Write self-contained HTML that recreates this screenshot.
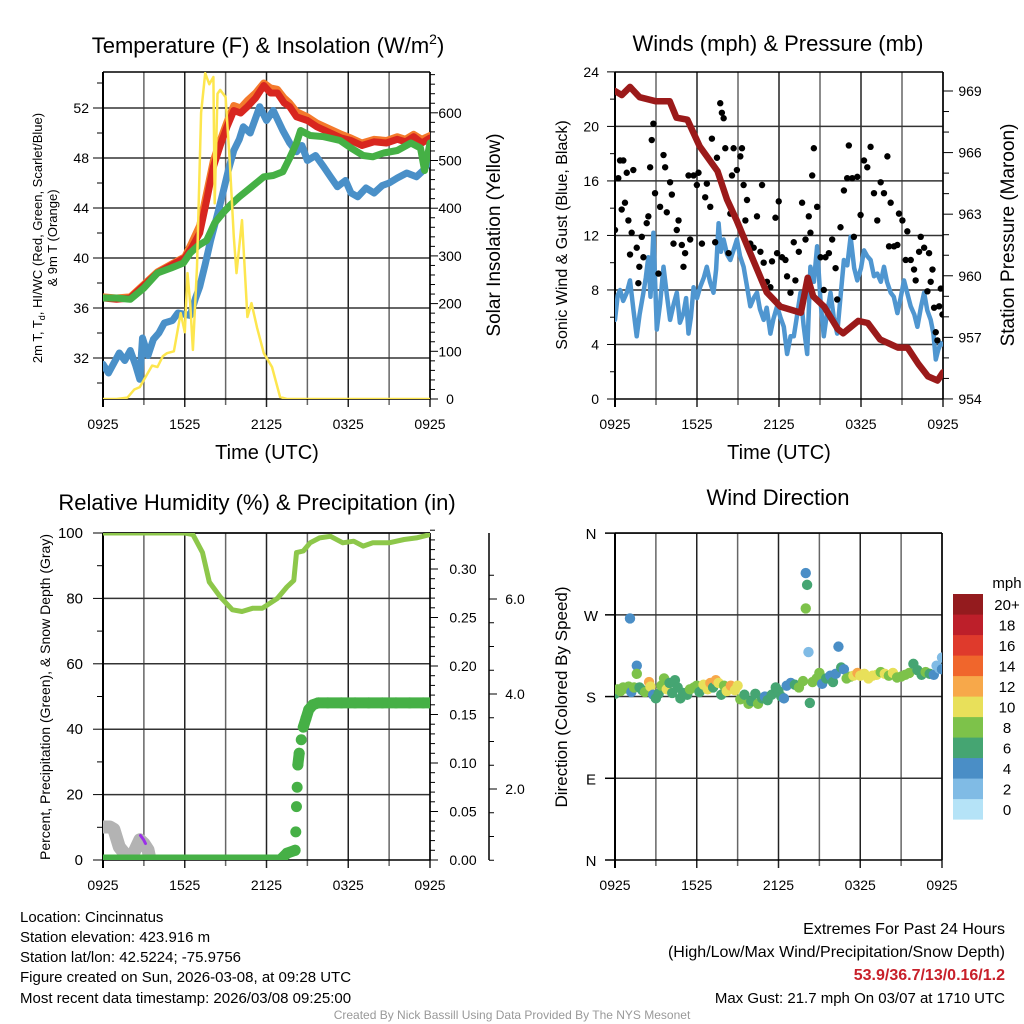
<!DOCTYPE html>
<html><head><meta charset="utf-8"><style>
html,body{margin:0;padding:0;background:#fff;}
svg{display:block;font-family:"Liberation Sans",Arial,sans-serif;}
</style></head><body>
<svg id="c" width="1024" height="1024" viewBox="0 0 1024 1024" xmlns="http://www.w3.org/2000/svg">
<defs>
<clipPath id="cp1"><rect x="103" y="72" width="327" height="327"/></clipPath>
<clipPath id="cp2"><rect x="615" y="72" width="328" height="327"/></clipPath>
<clipPath id="cp3"><rect x="103" y="533" width="327" height="327"/></clipPath>
<clipPath id="cp4"><rect x="615" y="533" width="327" height="327"/></clipPath>
</defs>
<g id="g1"></g>
<g id="g2"></g>
<g id="g3"></g>
<g id="g4"></g>

<text x="268" y="53" font-size="22" text-anchor="middle">Temperature (F) &amp; Insolation (W/m<tspan font-size="14" dy="-9">2</tspan><tspan dy="9">)</tspan></text>
<text x="778" y="51" font-size="22" text-anchor="middle">Winds (mph) &amp; Pressure (mb)</text>
<text x="257" y="510" font-size="22" text-anchor="middle">Relative Humidity (%) &amp; Precipitation (in)</text>
<text x="778" y="505" font-size="22" text-anchor="middle">Wind Direction</text>

<text transform="translate(42,238) rotate(-90)" font-size="13" text-anchor="middle">2m T, T<tspan font-size="9" dy="3">d</tspan><tspan dy="-3">, HI/WC (Red, Green, Scarlet/Blue)</tspan></text>
<text transform="translate(57,238) rotate(-90)" font-size="13" text-anchor="middle">&amp; 9m T (Orange)</text>
<text transform="translate(500,235) rotate(-90)" font-size="19" text-anchor="middle">Solar Insolation (Yellow)</text>
<text transform="translate(567,235) rotate(-90)" font-size="16" text-anchor="middle">Sonic Wind &amp; Gust (Blue, Black)</text>
<text transform="translate(1014,235) rotate(-90)" font-size="19" text-anchor="middle">Station Pressure (Maroon)</text>
<text transform="translate(50,697) rotate(-90)" font-size="14" text-anchor="middle">Percent, Precipitation (Green), &amp; Snow Depth (Gray)</text>
<text transform="translate(567,697) rotate(-90)" font-size="17" text-anchor="middle">Direction (Colored By Speed)</text>

<text x="267" y="459" font-size="20" text-anchor="middle">Time (UTC)</text>
<text x="779" y="459" font-size="20" text-anchor="middle">Time (UTC)</text>

<g font-size="15">
<text x="20" y="922">Location: Cincinnatus</text>
<text x="20" y="942">Station elevation: 423.916 m</text>
<text x="20" y="962">Station lat/lon: 42.5224; -75.9756</text>
<text x="20" y="982">Figure created on Sun, 2026-03-08, at 09:28 UTC</text>
<text x="20" y="1003">Most recent data timestamp: 2026/03/08 09:25:00</text>
</g>
<g font-size="16" text-anchor="end">
<text x="1005" y="934">Extremes For Past 24 Hours</text>
<text x="1005" y="957">(High/Low/Max Wind/Precipitation/Snow Depth)</text>
<text x="1005" y="980" fill="#c8202a" font-weight="bold">53.9/36.7/13/0.16/1.2</text>
<text x="1005" y="1003" font-size="15">Max Gust: 21.7 mph On 03/07 at 1710 UTC</text>
</g>
<text x="512" y="1019" font-size="12" fill="#999" text-anchor="middle">Created By Nick Bassill Using Data Provided By The NYS Mesonet</text>
</svg>
<script>
// ---------- data ----------
const xTickLabels = ["0925","1525","2125","0325","0925"];
const redT = [0,1,2,3,4,5,6,6.5,7.1,7.6,8.1,8.6,9.1,9.6,10.1,10.6,11.2,11.8,12.3,12.8,13.3,13.7,14.2,15,15.7,16.7,17.5,18.2,19,19.9,20.8,21.6,22.2,22.8,23.4,24];
const redV = [36.8,36.7,36.8,37.8,38.8,39.4,40.0,40.8,42,44.6,47.3,49,50.5,51.8,51.6,52.1,52.8,53.8,53.2,53.2,52.4,52.1,51.3,51.0,50.5,50.0,49.6,49.4,49.0,49.3,49.2,49.5,49.3,49.7,49.2,49.6];
const orangeV = [36.9,36.8,36.9,37.9,38.9,39.5,40.1,41.2,42.6,45.2,47.8,49.4,50.9,52.2,52.0,52.6,53.2,54.0,53.6,53.5,52.8,52.4,51.7,51.3,50.8,50.3,49.9,49.6,49.2,49.5,49.4,49.7,49.5,49.9,49.5,49.8];
const greenT = [0,1,2,3,4,5,5.9,6.4,7,7.6,8.2,8.8,9.4,10,10.8,11.8,12.5,13.2,13.7,14.2,14.5,15.2,16.2,17.4,18.2,19.1,19.8,20.6,21.6,22.6,23.3,23.6,24];
const greenV = [36.8,36.8,36.7,37.6,38.8,39.2,39.6,40.4,41.0,41.4,42.8,43.6,44.3,44.9,45.6,46.5,46.6,46.9,48.0,49.2,50.2,49.8,49.7,49.4,48.8,48.2,48.1,48.4,48.6,49.2,48.8,47.0,49.2];
const blueT = [0,0.4,0.8,1.2,1.6,2.0,2.4,2.7,2.9,3.3,3.7,4.1,4.5,5.1,5.5,6.0,6.4,6.8,7.1,7.5,7.9,8.4,8.8,9.2,9.6,10.0,10.3,10.8,11.5,12.0,12.5,13.2,13.7,14.2,14.6,15.0,15.6,16.2,16.7,17.2,17.8,18.2,18.7,19.3,19.9,20.5,21.0,21.6,22.3,23.0,23.5,24];
const blueV = [31.5,30.8,31.6,32.4,31.8,32.6,31.4,30.3,33.6,32.2,33.5,34.0,34.8,35.0,35.6,35.5,35.4,36.8,37.7,39.5,41.4,43.5,45.2,47,48.6,49.5,50.5,50.0,52.1,51.0,51.8,50.2,49.2,48.5,49.0,47.8,48.2,47.3,46.5,45.7,46.2,45.2,44.9,45.6,45.2,45.8,46.0,46.4,46.8,46.5,47.0,47.8];
const solarT = [0,1,1.8,2.3,2.7,3.2,3.6,4.0,4.4,4.7,5.2,5.7,6.0,6.2,6.4,6.6,6.9,7.2,7.5,7.8,8.1,8.2,8.4,8.6,9.0,9.3,9.6,9.8,10.2,10.6,10.9,11.3,11.8,12.4,13.0,13.5,24];
const solarV = [0,0,3,20,25,50,70,67,90,96,100,180,140,264,200,103,277,600,683,660,675,410,640,648,633,500,340,264,375,172,201,150,96,67,4,0,0];

const presT = [0,0.5,1.1,1.8,3.0,4.0,4.5,5.3,6.2,7.5,8.2,8.9,9.9,11.1,12.1,13.6,14.1,14.5,15.3,16.3,16.7,17.8,18.5,19.4,20.7,21.4,22.2,22.9,23.6,24];
const presV = [969,968.8,969.2,968.7,968.5,968.5,967.7,967.6,966.3,965.1,963.7,962.7,961.1,959.2,958.5,958.2,959.9,959.0,958.5,957.4,957.2,957.8,957.7,956.9,956.5,956.5,955.7,955.1,954.9,955.3];
const windT = [0,0.2,0.37,0.6,0.86,1.1,1.35,1.59,1.8,2.08,2.25,2.44,2.6,2.81,3.06,3.3,3.55,3.8,4.03,4.3,4.52,4.75,5.01,5.2,5.38,5.55,5.75,6.0,6.23,6.5,6.72,6.95,7.21,7.4,7.58,7.75,7.95,8.2,8.44,8.7,8.92,9.15,9.41,9.65,9.9,10.15,10.39,10.6,10.88,11.1,11.37,11.6,11.86,12.1,12.35,12.59,12.85,13.08,13.3,13.57,13.8,14.06,14.3,14.55,14.79,15.05,15.28,15.5,15.77,16.0,16.26,16.5,16.75,17.0,17.24,17.5,17.73,18.0,18.22,18.45,18.7,18.95,19.19,19.45,19.68,19.9,20.17,20.4,20.66,20.9,21.15,21.4,21.64,21.9,22.13,22.4,22.62,22.85,23.1,23.3,23.47,23.65,23.84,24];
const windV = [5.8,7.6,8.0,7.2,7.8,8.7,6.5,4.6,6.2,7.8,8.9,10.4,7.5,12.2,5.1,7.0,9.7,7.6,5.8,7.0,7.8,5.6,6.3,7.4,4.8,6.0,8.2,7.4,8.2,8.9,9.7,8.6,7.8,9.5,12.9,10.8,11.7,10.6,10.2,11.0,11.7,10.5,9.7,8.3,6.8,7.4,7.8,6.6,5.8,6.7,4.8,5.9,6.8,6.0,5.3,3.3,4.6,4.6,6.0,7.8,5.4,3.3,9.7,8.6,11.2,7.0,4.6,6.2,7.8,6.0,4.8,7.5,10.2,9.8,11.9,9.6,8.7,9.6,10.9,10.5,10.2,9.0,9.2,8.6,9.7,8.6,7.8,7.5,6.3,7.4,8.7,7.7,6.8,6.2,5.3,6.8,7.8,6.5,5.8,4.8,2.9,3.6,4.1,4.0];
const gustT = [0,.24,.49,.37,.73,.61,.86,.98,1.1,1.22,1.34,1.59,1.71,1.78,1.96,2.08,2.32,2.44,2.57,2.69,2.81,2.93,3.18,3.3,3.55,3.67,3.79,4.03,4.16,4.28,4.52,4.65,4.89,5.01,5.13,5.38,5.5,5.75,5.99,6.11,6.36,6.6,6.72,6.97,7.09,7.33,7.46,7.7,7.82,7.95,8.07,8.31,8.44,8.56,8.68,8.92,9.17,9.29,9.41,9.54,9.66,9.9,10.15,10.39,10.64,10.76,10.88,11.12,11.37,11.49,11.74,11.86,11.98,12.22,12.47,12.59,12.84,13.08,13.2,13.45,13.69,13.94,14.18,14.3,14.43,14.55,14.79,15.04,15.28,15.4,15.65,15.89,16.14,16.26,16.5,16.75,16.99,17.11,17.36,17.48,17.73,17.97,18.22,18.46,18.7,18.95,19.19,19.44,19.68,19.93,20.05,20.17,20.42,20.66,20.78,21.03,21.27,21.39,21.64,21.88,22.0,22.25,22.37,22.62,22.86,22.98,23.1,23.23,23.35,23.47,23.59,23.72,23.84,23.96];
const gustV = [12.4,16.2,13.9,17.5,14.4,17.5,16.6,13.1,10.6,12.2,16.8,11.1,8.5,9.7,11.9,10.4,12.9,13.4,17.0,19.0,20.2,15.1,9.2,14.1,17.9,17.0,13.7,15.9,15.0,11.4,12.4,13.1,11.3,9.7,10.7,16.4,11.7,16.4,15.7,16.6,11.4,14.8,15.8,14.1,19.1,11.5,17.7,21.7,21.0,20.6,18.4,10.7,13.6,16.4,18.4,16.8,17.8,18.4,15.7,13.1,14.6,11.4,11.1,13.4,10.8,15.7,10.0,8.6,8.2,10.1,13.3,10.7,14.5,10.4,10.2,9.0,7.8,11.5,8.7,10.8,14.4,11.7,13.4,12.2,16.4,18.4,14.1,10.4,8.0,10.4,10.7,11.7,9.6,7.3,12.6,15.3,16.2,18.6,16.2,11.9,16.3,13.5,17.5,17.0,18.5,15.1,13.1,15.9,15.1,17.8,11.2,14.4,11.2,11.3,13.6,13.1,10.2,12.3,10.2,9.5,8.7,10.8,11.9,11.1,7.9,10.7,8.6,9.5,6.7,4.9,4.3,6.8,8.1,6.2];

const rhT = [0,2,4,6,6.6,7.3,7.8,8.6,9.5,10.2,11,11.7,12.8,13.5,14,14.2,14.7,15.2,15.9,16.7,17.6,18.4,19.1,19.8,21,22.1,23,24];
const rhV = [100,100,100,100,99.5,94,85,80.5,76.5,76,77,77,80,83.5,85.5,94,94.5,97,98.5,99,97,97.5,96,97,97,98,98.5,99.5];
const precipT = [0,1,2,3,4,5,6,7,8,9,10,11,12,13,13.5,14.1,14.15,14.2,14.25,14.3,14.4,14.55,14.7,14.9,15.1,15.4,15.8,16.5,17.5,18.5,19.5,20.5,21.5,22.5,23.5,24];
const precipV = [0,0,0,0,0,0,0,0,0,0,0,0,0,0,0.007,0.01,0.029,0.055,0.075,0.098,0.11,0.124,0.137,0.146,0.155,0.16,0.162,0.162,0.162,0.162,0.162,0.162,0.162,0.162,0.162,0.162];
const snowT = [0,0.5,0.8,1.2,1.7,2.2,2.7,3.0,3.3,3.5];
const snowV = [1.2,1.2,1.15,0.78,0.6,0.62,0.93,0.85,0.72,0.45];

const dirT = [0,0.2,0.4,0.6,0.8,1.0,1.1,1.2,1.4,1.6,1.6,1.8,2.0,2.2,2.5,2.6,2.8,3.0,3.2,3.4,3.6,3.8,4.0,4.2,4.4,4.6,4.8,5.0,5.3,5.5,5.8,6.0,6.2,6.5,6.8,7.0,7.2,7.4,7.6,7.8,8.0,8.2,8.5,8.8,9.0,9.2,9.5,9.8,10.0,10.3,10.5,10.8,11.0,11.2,11.5,11.8,12.0,12.2,12.4,12.6,12.9,13.2,13.5,13.8,14.0,14.1,14.0,14.2,14.3,14.5,14.8,15.0,15.2,15.5,15.8,16.0,16.2,16.4,16.6,16.8,17.0,17.3,17.5,17.8,18.0,18.3,18.6,18.9,19.2,19.5,19.8,20.1,20.4,20.7,21.0,21.3,21.6,21.9,22.2,22.5,22.8,23.1,23.4,23.6,23.8,24.0,24.0];
const dirV = [183,188,186,190,189,191,266,185,190,214,205,190,187,185,196,191,182,178,183,192,200,188,195,184,198,190,178,184,182,188,190,192,185,193,188,195,190,198,195,182,192,186,192,187,192,177,182,172,175,183,172,178,180,176,182,190,186,180,178,192,195,193,190,197,316,303,277,229,173,196,200,206,194,200,203,196,205,235,212,210,200,202,203,206,203,205,200,203,204,207,205,203,206,201,202,204,206,216,209,204,207,205,204,214,211,223,210];
const dirS = [6,8,8,8,8,8,4,4,8,4,8,6,6,8,12,10,4,6,6,8,8,10,6,6,6,6,6,6,6,8,8,8,6,10,10,12,6,12,10,6,8,10,12,10,10,8,6,8,6,6,8,6,4,6,6,6,6,6,4,4,4,6,8,8,4,6,8,2,6,8,8,8,4,6,4,6,4,4,6,4,8,8,10,12,10,10,10,10,10,8,10,8,10,8,8,8,8,6,6,6,8,6,4,2,2,2,4];
const speedBins = ["0","2","4","6","8","10","12","14","16","18","20+"];
const binColors = ["#b5e3f7","#80bbe5","#4a8ec6","#45a572","#7dc24a","#e8e05a","#f7a84a","#f0662c","#df3a2c","#bd1f2a","#941b1e"];

// ---------- helpers ----------
const NS="http://www.w3.org/2000/svg";
function mk(tag,attrs,parent){const e=document.createElementNS(NS,tag);for(const k in attrs)e.setAttribute(k,attrs[k]);parent.appendChild(e);return e;}
function sx(p,t){return p.x0+t/24*(p.x1-p.x0);}
function pathOf(p,ts,vs,fy){let d="";for(let i=0;i<ts.length;i++){d+=(i?"L":"M")+sx(p,ts[i]).toFixed(1)+","+fy(vs[i]).toFixed(1);}return d;}

function frame(g,p,clipId,hGrid){
  const gg=mk("g",{},g);
  
  
  for(let i=0;i<=8;i++){const x=p.x0+i*(p.x1-p.x0)/8;mk("line",{x1:x,x2:x,y1:p.y0,y2:p.y1+(i%2?6:8),stroke:i%2?"#666":"#222","stroke-width":1.5},gg);}
  hGrid.forEach(y=>mk("line",{x1:p.x0,x2:p.x1,y1:y,y2:y,stroke:"#333","stroke-width":1.5},gg));
  mk("line",{x1:p.x0,x2:p.x0,y1:p.y0,y2:p.y1+8,stroke:"#000","stroke-width":2},gg);
  mk("line",{x1:p.x0,x2:p.x1,y1:p.y1,y2:p.y1,stroke:"#000","stroke-width":1.5},gg);
  mk("line",{x1:p.x1,x2:p.x1,y1:p.y0,y2:p.y1,stroke:"#000","stroke-width":1.5},gg);
  mk("line",{x1:p.x0,x2:p.x1,y1:p.y0,y2:p.y0,stroke:"#000","stroke-width":1.5},gg);
  xTickLabels.forEach((s,i)=>{const t=mk("text",{x:p.x0+i*(p.x1-p.x0)/4,y:p.y1+30,"font-size":14,"text-anchor":"middle"},g);t.textContent=s;
    
    });
}
function yTicks(g,x,vals,fy,dir,len,labels,fs,lx,anchor){
  vals.forEach((v,i)=>{const y=fy(v);mk("line",{x1:x,x2:x+dir*len[i],y1:y,y2:y,stroke:"#000","stroke-width":1},g);
    if(labels[i]!==null){const t=mk("text",{x:lx,y:y+5,"font-size":fs,"text-anchor":anchor},g);t.textContent=labels[i];
      
      }});
}

// ---------- panel 1 ----------
(function(){
  const g=document.getElementById("g1");const p={x0:103,x1:430,y0:72,y1:399};
  const fT=v=>108+(52-v)*12.5, fS=v=>399-v*0.477;
  frame(g,p,"cp1",[32,36,40,44,48,52].map(fT));
  const tv=[],tl=[],tn=[];for(let v=30;v<=54;v+=2){tv.push(v);tl.push(v%4===0?String(v):null);tn.push(v%4===0?10:6);}
  yTicks(g,p.x0,tv,fT,-1,tn,tl,14,89,"end");
  const sv=[],sl=[],sn=[];for(let v=0;v<=680;v+=20){sv.push(v);sl.push(v%100===0?String(v):null);sn.push(v%100===0?8:5);}
  yTicks(g,p.x1,sv,fS,1,sn,sl,14,450,"middle");
  const c=mk("g",{"clip-path":"url(#cp1)",fill:"none","stroke-linejoin":"round","stroke-linecap":"round"},g);
  const a=mk("path",{d:pathOf(p,redT,orangeV,fT),stroke:"#f47a2c","stroke-width":7},c);
  const b=mk("path",{d:pathOf(p,redT,redV,fT),stroke:"#d8261f","stroke-width":7},c);
  const d=mk("path",{d:pathOf(p,blueT,blueV,fT),stroke:"#4a90c8","stroke-width":7},c);
  const e=mk("path",{d:pathOf(p,greenT,greenV,fT),stroke:"#45b045","stroke-width":7},c);
  const f=mk("path",{d:pathOf(p,solarT,solarV,fS),stroke:"#fde64e","stroke-width":2.5},c);
})();

// ---------- panel 2 ----------
(function(){
  const g=document.getElementById("g2");const p={x0:615,x1:943,y0:72,y1:399};
  const fW=v=>399-v*13.63, fP=v=>91+(969-v)*20.53;
  frame(g,p,"cp2",[4,8,12,16,20].map(fW));
  const tv=[],tl=[],tn=[];for(let v=0;v<=24;v+=2){tv.push(v);tl.push(v%4===0?String(v):null);tn.push(v%4===0?8:5);}
  yTicks(g,p.x0,tv,fW,-1,tn,tl,14,599,"end");
  const pv=[],pl=[],pn=[];for(let v=954;v<=969;v++){pv.push(v);pl.push((v-954)%3===0?String(v):null);pn.push((v-954)%3===0?10:6);}
  yTicks(g,p.x1,pv,fP,1,pn,pl,14,970,"middle");
  const c=mk("g",{"clip-path":"url(#cp2)",fill:"none","stroke-linejoin":"round","stroke-linecap":"round"},g);
  const w=mk("path",{d:pathOf(p,windT,windV,fW),stroke:"#4f96d0","stroke-width":4.5},c);
  gustT.forEach((t,i)=>{const dt=mk("circle",{cx:sx(p,t),cy:fW(gustV[i]),r:3.2,fill:"#000"},c);
    
    });
  const pr=mk("path",{d:pathOf(p,presT,presV,fP),stroke:"#9b1a1a","stroke-width":6.5},c);
})();

// ---------- panel 3 ----------
(function(){
  const g=document.getElementById("g3");const p={x0:103,x1:430,y0:533,y1:860};
  const fR=v=>860-v*3.27, fPr=v=>860-v*970, fSn=v=>884-v*47.5;
  frame(g,p,"cp3",[20,40,60,80,100].map(fR));
  const rv=[],rl=[],rn=[];for(let v=0;v<=100;v+=10){rv.push(v);rl.push(v%20===0?String(v):null);rn.push(v%20===0?10:6);}
  yTicks(g,p.x0,rv,fR,-1,rn,rl,15,83,"end");
  const qv=[],ql=[],qn=[];for(let i=0;i<=34;i++){const v=i/100;qv.push(v);ql.push(i%5===0?v.toFixed(2):null);qn.push(i%5===0?8:5);}
  yTicks(g,p.x1,qv,fPr,1,qn,ql,14,463,"middle");
  mk("line",{x1:489,x2:489,y1:533,y2:860,stroke:"#000","stroke-width":1.5},g);
  const nv=[],nl=[],nn=[];for(let i=1;i<=13;i++){const v=i/2;if(fSn(v)<533)break;nv.push(v);nl.push(i%4===0?v.toFixed(1):null);nn.push(i%4===0?8:5);}
  yTicks(g,489,nv,fSn,1,nn,nl,14,515,"middle");
  const c=mk("g",{"clip-path":"url(#cp3)",fill:"none","stroke-linejoin":"round","stroke-linecap":"round"},g);
  const s=mk("path",{d:pathOf(p,snowT,snowV,fSn),stroke:"#b3b3b3","stroke-width":13},c);
  const pu=mk("path",{d:"M"+sx(p,2.75)+","+(fSn(1.0)-1)+"l3,4l2,4",stroke:"#9b30e8","stroke-width":3},c);
  let d="";for(let i=0;i<precipT.length;i++){if(i>0&&Math.abs(precipV[i]-precipV[i-1])<0.012&&precipT[i]-precipT[i-1]<=1.1)d+="M"+sx(p,precipT[i-1])+","+fPr(precipV[i-1])+"L"+sx(p,precipT[i])+","+fPr(precipV[i]);}
  const pl=mk("path",{d:d,stroke:"#46b046","stroke-width":11},c);
  precipT.forEach((t,i)=>{const dt=mk("circle",{cx:sx(p,t),cy:fPr(precipV[i]),r:5.5,fill:"#46b046"},c);
    
    });
  const r=mk("path",{d:pathOf(p,rhT,rhV,fR),stroke:"#8dc74a","stroke-width":5},c);
})();

// ---------- panel 4 ----------
(function(){
  const g=document.getElementById("g4");const p={x0:615,x1:942,y0:533,y1:860};
  const fD=v=>860-v*0.908;
  frame(g,p,"cp4",[90,180,270,360].map(fD));
  const lbl=["N","E","S","W","N"];
  [0,90,180,270,360].forEach((v,i)=>{const y=fD(v);mk("line",{x1:p.x0-10,x2:p.x0,y1:y,y2:y,stroke:"#000","stroke-width":1.5},g);
    const t=mk("text",{x:591,y:y+6,"font-size":15,"text-anchor":"middle"},g);t.textContent=lbl[i];
    
    });
  const c=mk("g",{"clip-path":"url(#cp4)"},g);
  dirT.forEach((t,i)=>{const bi=Math.min(10,Math.round(dirS[i]/2));
    const dt=mk("circle",{cx:sx(p,t),cy:fD(dirV[i]),r:5.2,fill:binColors[bi]},c);
    
    });
  const lg=mk("g",{},g);
  
  
  const mt=mk("text",{x:1007,y:588,"font-size":15,"text-anchor":"middle"},lg);mt.textContent="mph";
  speedBins.forEach((s,i)=>{const y=594+(10-i)*20.5;
    const r=mk("rect",{x:953,y:y,width:30,height:20.6,fill:binColors[i]},lg);
    
    
    const t=mk("text",{x:1007,y:y+16,"font-size":15,"text-anchor":"middle"},lg);t.textContent=s;
    
    });
})();
</script>
</body></html>
